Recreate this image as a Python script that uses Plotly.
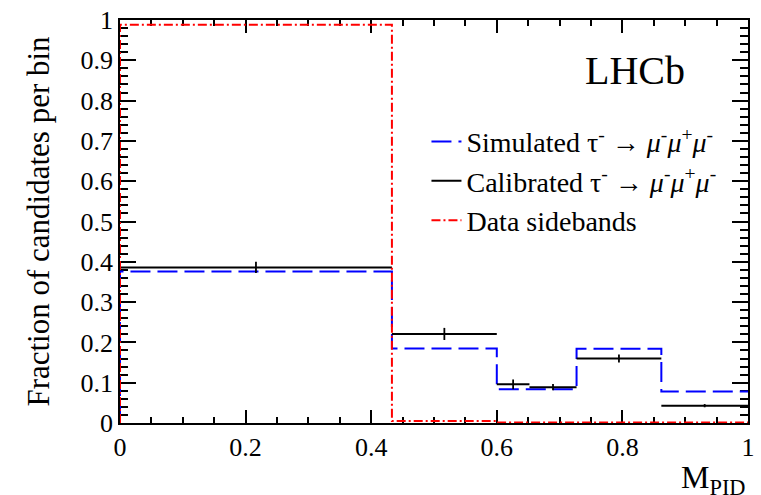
import plotly.graph_objects as go

# Bin edges (M_PID) and per-bin fractions
edges = [0.0, 0.433, 0.6, 0.727, 0.862, 1.0]
simulated = [0.376, 0.185, 0.084, 0.184, 0.078]
sidebands = [0.988, 0.005, 0.001, 0.001, 0.001]

# Calibrated sample uses a finer split of the third bin
calib_edges = [0.0, 0.433, 0.6, 0.652, 0.727, 0.862, 1.0]
calibrated = [0.386, 0.221, 0.096, 0.089, 0.160, 0.043]
calib_err = [0.014, 0.015, 0.012, 0.008, 0.010, 0.004]

x_ticks = [0, 0.2, 0.4, 0.6, 0.8, 1]
y_ticks = [0, 0.1, 0.2, 0.3, 0.4, 0.5, 0.6, 0.7, 0.8, 0.9, 1]

FONT = "Liberation Serif"


def step_xy(e, v):
    xs = [e[0]]
    ys = [0.0]
    for i, val in enumerate(v):
        xs += [e[i], e[i + 1]]
        ys += [val, val]
    return xs, ys


def segments(e, v):
    xs, ys = [], []
    for i, val in enumerate(v):
        xs += [e[i], e[i + 1], None]
        ys += [val, val, None]
    return xs, ys


fig = go.Figure()

sx, sy = step_xy(edges, simulated)
fig.add_trace(go.Scatter(
    x=sx, y=sy, mode="lines",
    line=dict(color="#0000ff", width=2, dash="20px,7px"),
    name="Simulated τ<sup>-</sup> → <i>μ</i><sup>-</sup><i>μ</i><sup>+</sup><i>μ</i><sup>-</sup>",
    legendgroup="a",
))

cx, cy = segments(calib_edges, calibrated)
fig.add_trace(go.Scatter(
    x=cx, y=cy, mode="lines",
    line=dict(color="black", width=2),
    name="Calibrated τ<sup>-</sup> → <i>μ</i><sup>-</sup><i>μ</i><sup>+</sup><i>μ</i><sup>-</sup>",
    legendgroup="b",
))
centers = [(calib_edges[i] + calib_edges[i + 1]) / 2 for i in range(len(calibrated))]
fig.add_trace(go.Scatter(
    x=centers, y=calibrated, mode="markers",
    marker=dict(size=0.1, color="black"),
    error_y=dict(type="data", array=calib_err, visible=True, color="black",
                 thickness=1.8, width=0),
    showlegend=False, hoverinfo="skip",
))

rx, ry = step_xy(edges, sidebands)
fig.add_trace(go.Scatter(
    x=rx, y=ry, mode="lines",
    line=dict(color="#ff0000", width=2, dash="9px,3px,2px,3px"),
    name="Data sidebands",
    legendgroup="c",
))

axis_common = dict(
    showline=True, linecolor="black", linewidth=1.5, mirror="ticks",
    ticks="inside", tickcolor="black", tickwidth=1.5,
    showgrid=False, zeroline=False, layer="below traces",
    tickfont=dict(family=FONT, size=26, color="black"),
)

fig.update_xaxes(
    range=[0, 1], tickvals=x_ticks, ticklen=13,
    minor=dict(dtick=0.05, tick0=0, ticks="inside", ticklen=6,
               tickcolor="black", tickwidth=1.5),
    **axis_common,
)
fig.update_yaxes(
    range=[0, 1], tickvals=y_ticks, ticklen=16,
    minor=dict(dtick=0.02, tick0=0, ticks="inside", ticklen=8,
               tickcolor="black", tickwidth=1.5),
    title=dict(text="Fraction of candidates per bin",
               font=dict(family=FONT, size=31, color="black"), standoff=22),
    **axis_common,
)

fig.add_annotation(
    text="LHCb", x=0.82, y=0.875, xref="paper", yref="paper",
    xanchor="center", yanchor="middle",
    showarrow=False, font=dict(family=FONT, size=40, color="black"),
)
fig.add_annotation(
    text="M<sub>PID</sub>", x=1.0, y=-0.085, xref="paper", yref="paper",
    xanchor="right", yanchor="top", showarrow=False,
    font=dict(family=FONT, size=32, color="black"),
)

fig.update_layout(
    width=761, height=495,
    font=dict(family=FONT, color="black"),
    margin=dict(l=120, r=6, t=16, b=72),
    plot_bgcolor="white", paper_bgcolor="white",
    legend=dict(
        x=0.488, y=0.76, xanchor="left", yanchor="top",
        bgcolor="rgba(0,0,0,0)", font=dict(family=FONT, size=28, color="black"),
        traceorder="grouped", tracegroupgap=0,
    ),
)

fig.write_html("out.html")
